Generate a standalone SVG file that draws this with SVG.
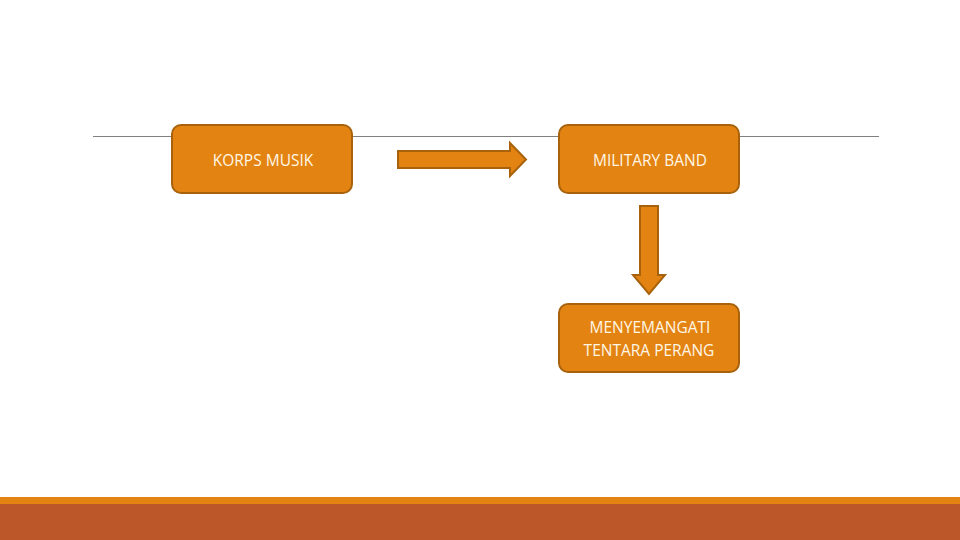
<svg xmlns="http://www.w3.org/2000/svg" width="960" height="540" viewBox="0 0 960 540">
<style>
.box{fill:#e38412;stroke:#a8620c;stroke-width:2}
.arr{fill:#e38412;stroke:#a8620c;stroke-width:2;stroke-linejoin:miter}
.t{font-family:"Open Sans","Liberation Sans",sans-serif;font-size:15.5px;fill:#fff6e6;text-anchor:middle}
</style>
<rect width="960" height="540" fill="#ffffff"/>
<line x1="93" y1="136.5" x2="879" y2="136.5" stroke="#808080" stroke-width="1"/>
<rect x="0" y="497" width="960" height="7" fill="#e38412"/>
<rect x="0" y="504" width="960" height="36" fill="#bb5729"/>
<g id="connectors">
<path class="arr" d="M398,151 H510 V143 L526,159.5 L510,176 V168 H398 Z"/>
<path class="arr" d="M640,206 H658 V275 H665 L649,294 L633,275 H640 Z"/>
</g>
<g id="korps">
<rect class="box" x="172" y="125" width="180" height="68" rx="9"/>
<text class="t" x="263" y="166">KORPS MUSIK</text>
</g>
<g id="military">
<rect class="box" x="559" y="125" width="180" height="68" rx="9"/>
<text class="t" x="650" y="166">MILITARY BAND</text>
</g>
<g id="menyemangati">
<rect class="box" x="559" y="304" width="180" height="68" rx="9"/>
<text class="t" x="650" y="333">MENYEMANGATI</text>
<text class="t" x="649" y="356">TENTARA PERANG</text>
</g>
</svg>
